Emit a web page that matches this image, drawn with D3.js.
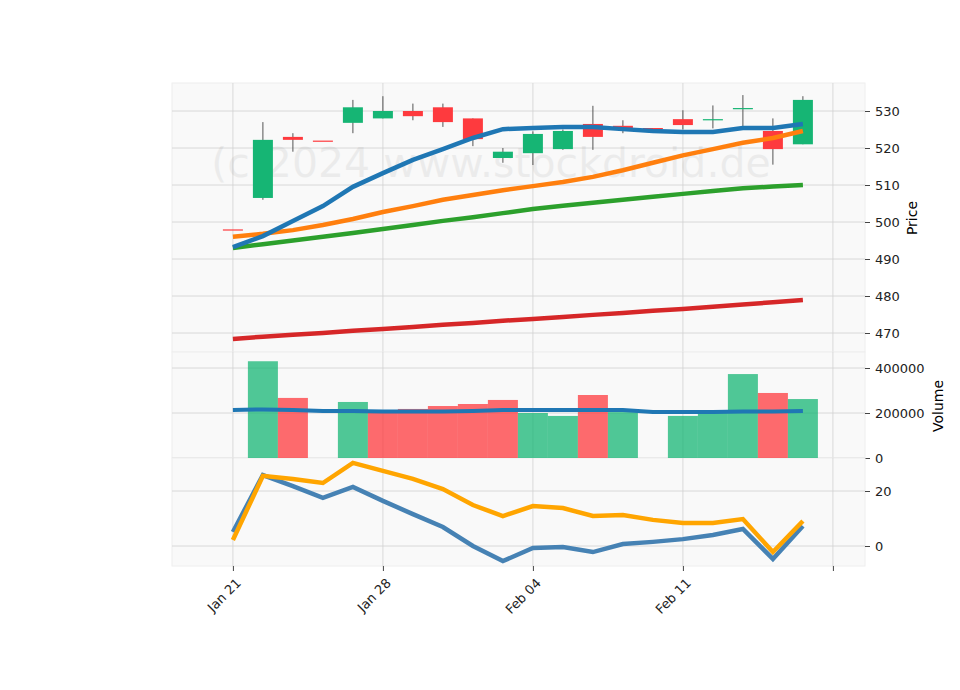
<!DOCTYPE html>
<html><head><meta charset="utf-8">
<script src="https://cdn.jsdelivr.net/npm/d3@7"></script>
<style>body{margin:0;background:#fff}text{font-family:"DejaVu Sans",sans-serif}</style>
</head><body><svg id="chart" width="960" height="690"></svg>
<script>
const tickLabels = ["Jan 21", "Jan 28", "Feb 04", "Feb 11", ""]
const tickIdx = [0, 5, 10, 15, 20]

// candles: open, close, high, low
const opens  = [498, 506.5, 523, 522, 526.8, 528, 530, 531, 528, 517.3, 518.6, 519.7, 526.5, 526, 525.4, 527.8, 527.8, 530.8, 524.6, 521]
const closes = [498, 522.2, 522.2, 522, 531, 530, 528.6, 527, 522.4, 519, 523.8, 524.6, 523, 525, 525.4, 526.2, 527.8, 530.8, 519.7, 533]
const highs  = [498, 527, 524, 522, 533, 534, 532, 532, 528, 520, 524.5, 525, 531.4, 527.5, 525.4, 530.2, 531.5, 534.3, 528, 534]
const lows   = [498, 506, 519, 522, 524, 528, 527.5, 525.7, 520.5, 516, 515.4, 519.5, 519.5, 524, 525.4, 525, 525.3, 525.6, 515.5, 521]

const smaBlue   = [493.2, 496.2, 500.3, 504.3, 509.5, 513.2, 516.8, 519.7, 522.7, 525.1, 525.4, 525.7, 525.7, 525.1, 524.6, 524.3, 524.3, 525.4, 525.4, 526.5]
const smaOrange = [496, 496.8, 497.8, 499.2, 500.8, 502.7, 504.3, 506, 507.3, 508.6, 509.7, 510.8, 512.2, 514, 516, 518, 519.7, 521.4, 522.7, 524.6]
const smaGreen  = [493, 494, 495, 496, 497, 498.1, 499.2, 500.3, 501.3, 502.4, 503.5, 504.4, 505.2, 506, 506.8, 507.6, 508.4, 509.1, 509.6, 510]
const smaRed    = [468.4, 469, 469.5, 470, 470.6, 471.1, 471.6, 472.2, 472.7, 473.3, 473.8, 474.3, 474.9, 475.4, 476, 476.5, 477.1, 477.7, 478.3, 478.9]

const volumes = [0, 430000, 267000, 0, 249000, 200000, 218000, 231000, 240000, 258000, 200000, 187000, 280000, 204000, 0, 187000, 204000, 373000, 289000, 262000]
const volUp   = [1, 1, 0, 0, 1, 0, 0, 0, 0, 0, 1, 1, 0, 1, 0, 1, 1, 1, 0, 1]
const volAvg  = [213000, 216000, 213000, 209000, 209000, 207000, 207000, 207000, 209000, 213000, 213000, 213000, 213000, 213000, 204000, 204000, 204000, 207000, 207000, 209000]

const oscBlue   = [5.1, 25.8, 21.8, 17.5, 21.5, 16.4, 11.6, 6.9, 0, -5.5, -0.7, -0.4, -2.2, 0.7, 1.5, 2.5, 4, 6.2, -4.7, 7.3]
const oscOrange = [2.2, 25.5, 24.4, 22.9, 30.2, 27.3, 24.4, 20.7, 14.9, 10.9, 14.5, 13.8, 10.9, 11.3, 9.5, 8.4, 8.4, 9.8, -2.2, 9.1]

const svg = d3.select("#chart")
const left = 172, right = 865
const x = d3.scaleLinear().domain([-2.03, 21.07]).range([left, right])
const yP = d3.scaleLinear().domain([530, 470]).range([111, 333])
const yV = d3.scaleLinear().domain([0, 400000]).range([458, 368])
const yO = d3.scaleLinear().domain([0, 20]).range([546, 491])

const panels = [
  {top: 83, bottom: 352, y: yP, ticks: [470, 480, 490, 500, 510, 520, 530]},
  {top: 352, bottom: 458, y: yV, ticks: [0, 200000, 400000]},
  {top: 458, bottom: 566, y: yO, ticks: [0, 20]}
]

panels.forEach(p => {
  let g = svg.append("g")
  g.append("rect").attr("x", left).attr("y", p.top).attr("width", right - left)
    .attr("height", p.bottom - p.top).attr("fill", "#f9f9f9").attr("stroke", "#eeeeee")
  g.selectAll(".hg").data(p.ticks).enter().append("line")
    .attr("x1", left).attr("x2", right).attr("y1", d => p.y(d)).attr("y2", d => p.y(d))
    .attr("stroke", "#d0d0d0").attr("stroke-width", 0.8)
  g.selectAll(".vg").data(tickIdx).enter().append("line")
    .attr("x1", d => x(d)).attr("x2", d => x(d)).attr("y1", p.top).attr("y2", p.bottom)
    .attr("stroke", "#d0d0d0").attr("stroke-width", 0.8)
  let ax = d3.axisRight(p.y).tickValues(p.ticks).tickFormat(d => d).tickSize(5).tickPadding(5)
  let a = svg.append("g").attr("transform", `translate(${right},0)`).call(ax)
  a.select(".domain").remove()
  a.selectAll("line").attr("stroke", "#444")
  a.selectAll("text").attr("font-size", 13).attr("fill", "#222")
})

// watermark
svg.append("text").attr("x", 491).attr("y", 177).attr("text-anchor", "middle")
  .attr("font-size", 41).attr("fill", "#000").attr("opacity", 0.05)
  .text("(c)2024 www.stockdroid.de")

// candles
const idx = d3.range(opens.length)
const green = "#16b574", red = "#fe3a3e"
const cg = svg.append("g")
idx.forEach(i => {
  let up = closes[i] >= opens[i] && !(i == 0 || i == 3 || i == 14)
  let col = up ? green : red
  cg.append("line").attr("x1", x(i)).attr("x2", x(i)).attr("y1", yP(highs[i])).attr("y2", yP(lows[i]))
    .attr("stroke", "#555").attr("stroke-width", 1)
  let t = yP(Math.max(opens[i], closes[i])), b = yP(Math.min(opens[i], closes[i]))
  cg.append("rect").attr("x", x(i) - 10).attr("y", t).attr("width", 20)
    .attr("height", Math.max(b - t, 1.2)).attr("fill", col)
})

const line = (y, data) => d3.line().x((d, i) => x(i)).y(d => y(d))(data)
;[[smaRed, "#d62728"], [smaGreen, "#2ca02c"], [smaOrange, "#ff7f0e"], [smaBlue, "#1f77b4"]].forEach(([d, c]) => {
  svg.append("path").attr("d", line(yP, d)).attr("fill", "none").attr("stroke", c).attr("stroke-width", 4.5)
})

// volume
svg.append("g").selectAll("rect").data(volumes).enter().append("rect")
  .attr("x", (d, i) => x(i) - 15).attr("width", 30)
  .attr("y", d => yV(d)).attr("height", d => yV(0) - yV(d))
  .attr("fill", (d, i) => volUp[i] ? "#16b574" : "#fe3a3e").attr("opacity", 0.75)
svg.append("path").attr("d", line(yV, volAvg)).attr("fill", "none").attr("stroke", "#1f77b4").attr("stroke-width", 4)

// oscillator
svg.append("path").attr("d", line(yO, oscBlue)).attr("fill", "none").attr("stroke", "#4682b4").attr("stroke-width", 4.5)
svg.append("path").attr("d", line(yO, oscOrange)).attr("fill", "none").attr("stroke", "#ffa500").attr("stroke-width", 4.5)

// x axis
let xa = svg.append("g").attr("transform", "translate(0,566)")
  .call(d3.axisBottom(x).tickValues(tickIdx).tickFormat((d, i) => tickLabels[i]).tickSize(5))
xa.select(".domain").remove()
xa.selectAll("line").attr("stroke", "#444")
xa.selectAll("text").attr("font-size", 13).attr("fill", "#222")
  .attr("text-anchor", "end").attr("transform", "translate(0,4) rotate(-45)").attr("dx", "-0.3em").attr("dy", "0.6em")

svg.append("text").attr("transform", "translate(917,218) rotate(-90)").attr("text-anchor", "middle")
  .attr("font-size", 14).text("Price")
svg.append("text").attr("transform", "translate(943,406) rotate(-90)").attr("text-anchor", "middle")
  .attr("font-size", 14).text("Volume")
</script></body></html>
